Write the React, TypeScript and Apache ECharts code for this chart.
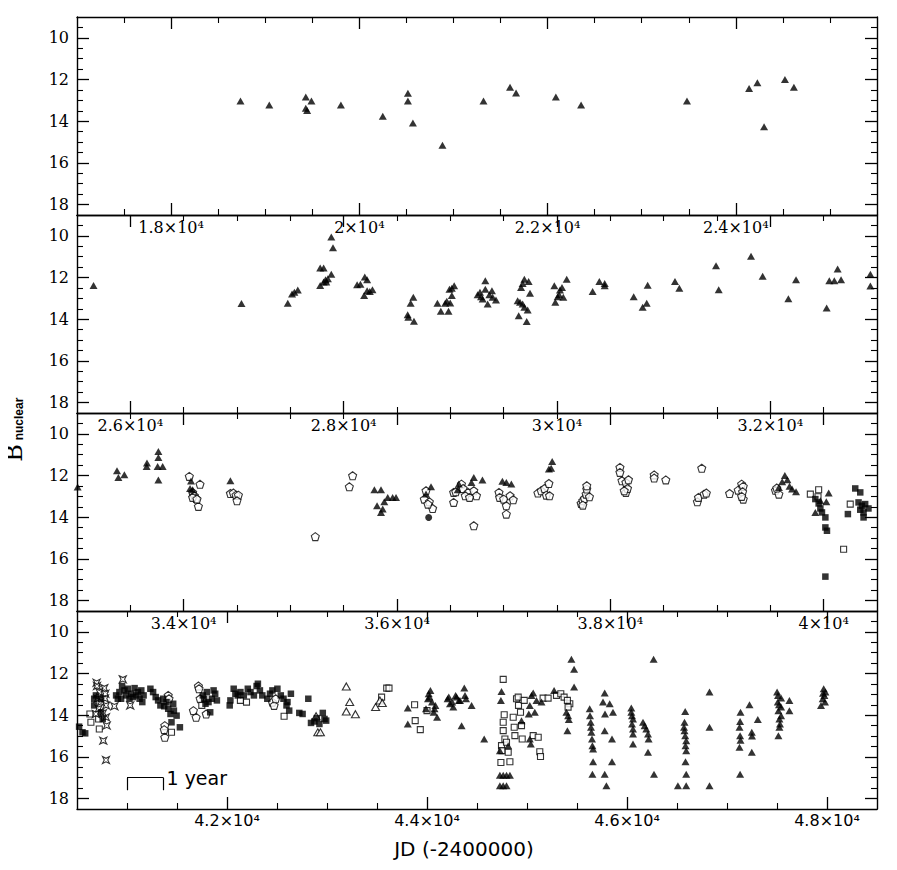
import React, { useEffect, useRef } from "react";
import * as echarts from "echarts";

// ---------- axis ranges and tick values ----------
const panelMinX = [17000, 25500, 33000, 40500];
const panelMaxX = [25500, 33000, 40500, 48500];
const panelMajorTicks = [
  [18000, 20000, 22000, 24000],
  [26000, 28000, 30000, 32000],
  [34000, 36000, 38000, 40000],
  [42000, 44000, 46000, 48000],
];
const minorStep = 500;
const magTicks = [10, 12, 14, 16, 18];
const magMin = 9;
const magMax = 18.5;
const magMinorStep = 0.5;

// ---------- data: [JD-2400000, B_nuclear] ----------
const filledTri = [
  // panel 1
  [18737, 13.03], [19043, 13.22], [19431, 12.84], [19431, 13.38], [19445, 13.49], [19491, 13.03],
  [19804, 13.22], [20249, 13.76], [20516, 12.66], [20516, 13.03], [20569, 14.09], [20883, 15.15],
  [21319, 13.03], [21601, 12.37], [21665, 12.65], [22088, 12.84], [22356, 13.22], [23481, 13.03],
  [24141, 12.43], [24229, 12.16], [24300, 14.27], [24522, 12.0], [24617, 12.37],
  // panel 2
  [25655, 12.38], [27042, 13.25], [27476, 13.24], [27516, 12.79], [27538, 12.71], [27570, 12.6],
  [27780, 11.54], [27812, 11.54], [27884, 10.06], [27900, 10.57], [27884, 11.84], [27780, 12.38],
  [27812, 12.22], [27830, 12.11], [27852, 12.06], [27837, 12.22], [28126, 12.35], [28157, 12.32],
  [28198, 11.98], [28220, 12.11], [28192, 12.86], [28220, 12.63], [28245, 12.67], [28270, 12.59],
  [28600, 13.78], [28606, 13.9], [28628, 13.24], [28653, 12.95], [28659, 14.1], [28879, 13.24],
  [28911, 13.62], [28952, 13.24], [28967, 13.14], [28983, 13.62], [28992, 12.56], [29014, 12.86],
  [29014, 12.51], [29036, 12.4], [28999, 13.22],
  [29256, 12.83], [29288, 12.92], [29328, 12.16], [29328, 12.56], [29303, 13.03], [29350, 13.27],
  [29366, 12.83], [29390, 12.63], [29397, 12.95], [29428, 13.08], [29278, 12.71],
  [29641, 13.83], [29653, 13.19], [29663, 12.48], [29678, 12.29], [29694, 12.08], [29734, 12.19],
  [29747, 12.76], [29694, 13.43], [29725, 13.56], [29716, 14.11], [29678, 13.27], [29631, 13.11],
  [29975, 12.4], [29984, 13.19], [30006, 12.92], [30028, 12.6], [30047, 12.48], [30059, 12.95],
  [30091, 12.08], [30020, 12.83],
  [30334, 12.67], [30397, 12.19], [30447, 12.29], [30447, 12.4],
  [30719, 12.92], [30803, 13.43], [30841, 13.24], [30850, 12.37],
  [31106, 12.19], [31147, 12.52], [31491, 11.44], [31516, 12.59], [31819, 10.98], [31928, 11.94],
  [32169, 13.02], [32241, 12.11], [32528, 13.46], [32553, 12.16], [32600, 12.16], [32631, 11.59],
  [32663, 12.11], [32938, 11.84], [32938, 12.41],
  // panel 3
  [33006, 12.55], [33375, 11.77], [33388, 12.09], [33444, 11.96], [33656, 11.4], [33653, 11.57],
  [33763, 10.85], [33763, 11.14], [33763, 12.21], [33756, 11.57], [33803, 11.57],
  [34069, 12.26], [34060, 12.62], [34084, 12.68], [34438, 12.25],
  [35788, 12.68], [35850, 12.68], [35813, 13.45], [35866, 13.61], [35850, 13.77], [35881, 13.26],
  [35913, 13.05], [35959, 13.05], [35991, 13.05], [36319, 12.54], [36272, 12.89],
  [36569, 12.68], [36580, 12.41], [36720, 12.09], [36801, 12.21], [36698, 12.33],
  [36988, 12.28], [37025, 12.33], [37072, 12.41], [37424, 11.69], [37455, 11.33], [37445, 11.65],
  [39611, 12.3], [39636, 12.0], [39660, 12.2], [39680, 12.52], [39704, 12.65], [39741, 12.78],
  [39580, 12.57], [40047, 12.84], [39922, 13.77], [39969, 13.21], [40025, 13.26],
  // panel 4
  [43808, 13.65], [43808, 14.42],
  [43990, 13.69], [44010, 13.21], [44017, 12.97], [44034, 12.81], [44050, 13.37], [44067, 13.86],
  [44084, 13.53], [44101, 14.1], [44025, 13.13], [44075, 13.69],
  [44206, 13.21], [44218, 13.13], [44230, 13.45], [44252, 13.37], [44263, 13.61], [44286, 13.05],
  [44296, 13.13], [44319, 13.29], [44330, 13.29], [44346, 14.5], [44373, 12.7], [44380, 13.05],
  [44390, 13.21], [44446, 13.53], [44572, 15.14],
  [44745, 12.86], [44739, 13.29], [44729, 16.88], [44762, 16.88], [44795, 16.88], [44829, 16.88],
  [44729, 17.39], [44762, 17.39], [44795, 17.39], [44729, 15.7], [44812, 15.46], [44945, 14.26],
  [45018, 13.94], [45028, 13.53], [45045, 13.05], [45062, 12.94], [45028, 15.14], [45038, 15.38],
  [45078, 13.86], [45095, 13.29], [45145, 13.37], [45271, 12.81], [45394, 13.86], [45411, 14.02],
  [45418, 14.21], [45404, 14.74], [45444, 11.32], [45471, 11.8], [45471, 12.65],
  [45627, 13.69], [45630, 14.02], [45637, 14.34], [45640, 14.58], [45644, 14.82], [45650, 15.14],
  [45654, 15.46], [45661, 15.62], [45661, 16.23], [45654, 16.83],
  [45777, 12.94], [45760, 13.37], [45780, 13.94], [45777, 14.74], [45827, 13.45], [45860, 13.86],
  [45850, 15.14], [45850, 16.23], [45777, 16.83], [45794, 17.39],
  [46043, 13.66], [46043, 13.86], [46050, 14.02], [46060, 14.18], [46050, 14.42], [46060, 14.66],
  [46060, 14.9], [46060, 15.38],
  [46160, 14.34], [46176, 14.5], [46193, 14.66], [46210, 14.9], [46216, 15.14], [46210, 15.78],
  [46266, 11.32], [46270, 16.83],
  [46582, 13.82], [46575, 14.34], [46570, 14.58], [46575, 14.74], [46582, 14.98], [46592, 15.22],
  [46585, 15.46], [46592, 15.7], [46585, 16.23], [46592, 16.83], [46592, 17.39], [46509, 17.39],
  [46825, 12.89], [46825, 14.58], [46825, 17.39],
  [47135, 13.86], [47125, 14.58], [47131, 14.98], [47125, 15.54], [47131, 16.83], [47131, 14.3],
  [47135, 15.2], [47225, 13.5], [47248, 14.82], [47248, 15.78], [47308, 14.21], [47250, 15.0],
  [47501, 12.89], [47508, 13.37], [47514, 13.78], [47524, 14.18], [47524, 14.58], [47514, 14.98],
  [47541, 13.18], [47541, 13.61], [47541, 14.02], [47624, 13.29], [47624, 13.78], [47530, 14.42],
  [47510, 13.05], [47520, 13.5],
  [47967, 12.73], [47974, 13.05], [47957, 13.21], [47940, 13.53], [47980, 13.37], [47984, 12.89],
  [47960, 12.95],
];

const openPent = [
  [34053, 12.04], [34153, 12.42], [34084, 12.81], [34100, 12.97], [34116, 13.1], [34138, 13.48],
  [34084, 13.05], [34125, 13.13],
  [34438, 12.86], [34466, 12.84], [34491, 12.94], [34513, 12.94], [34500, 13.21],
  [35234, 14.93], [35553, 12.54], [35584, 12.01],
  [36256, 13.13], [36272, 12.73], [36303, 13.26], [36334, 13.58], [36290, 13.37],
  [36531, 13.29], [36531, 12.81], [36551, 12.78], [36604, 12.41], [36620, 12.62], [36667, 12.81],
  [36720, 12.73], [36720, 14.41], [36640, 12.97], [36745, 12.97], [36680, 13.05],
  [36956, 12.81], [36962, 13.05], [37000, 13.13], [37025, 13.45], [37025, 13.85], [37060, 12.97],
  [37090, 13.16],
  [37321, 12.84], [37352, 12.73], [37383, 12.62], [37424, 12.38], [37400, 12.94], [37430, 12.97],
  [37726, 13.34], [37742, 13.21], [37757, 13.1], [37773, 12.89], [37779, 12.65], [37779, 12.49],
  [37804, 13.02], [37742, 13.42],
  [38090, 11.61], [38090, 11.85], [38109, 12.25], [38146, 12.33], [38146, 12.81], [38161, 12.62],
  [38170, 12.2], [38130, 12.73],
  [38411, 11.97], [38411, 12.12], [38520, 12.21],
  [38857, 11.65], [38816, 13.26], [38826, 13.05], [38879, 12.89], [38900, 12.84],
  [39118, 12.86], [39199, 12.7], [39231, 12.41], [39246, 12.52], [39240, 12.78], [39246, 13.13],
  [39231, 13.0],
  [39548, 12.71], [39580, 12.89], [39560, 12.6],
  // panel 4
  [41412, 13.05], [41420, 13.21], [41378, 14.5], [41372, 14.69], [41378, 15.06],
  [41664, 13.78], [41691, 14.1], [41714, 12.6], [41720, 12.73], [41792, 13.94], [41731, 13.21],
  [42454, 13.37], [42471, 13.53], [42487, 13.21],
];

const filledCircle = [[36297, 14.01]];

const openSquare = [
  [39875, 12.89], [39953, 12.68], [39947, 13.02], [40187, 15.54], [40249, 13.37],
  [40629, 13.94], [40639, 14.34], [40723, 14.66], [40716, 14.18], [41445, 14.82], [41748, 13.53],
  [42134, 13.29], [42195, 13.37], [42571, 14.05],
  [43546, 13.13], [43597, 12.7], [43620, 12.7], [43876, 13.5], [43882, 14.26], [43933, 14.69],
  [44000, 13.78],
  [44762, 12.28], [44772, 13.98], [44762, 14.34], [44762, 14.74], [44745, 15.46], [44750, 15.7],
  [44739, 16.27], [44779, 15.14], [44795, 15.3], [44812, 15.78], [44829, 16.23], [44862, 14.1],
  [44872, 14.58], [44879, 14.98], [44895, 13.21], [44912, 13.13], [44915, 13.53], [44935, 13.86],
  [44945, 14.5], [44952, 15.14], [44972, 13.29], [45062, 14.98], [45112, 15.06], [45128, 15.75],
  [45135, 15.98], [45161, 13.18], [45211, 13.18], [45295, 13.05], [45338, 12.97], [45371, 13.13],
  [45428, 13.45], [45404, 13.29], [45411, 13.61],
];

const filledSquare = [
  [39922, 13.13], [39953, 13.34], [39969, 13.58], [39984, 13.77], [40016, 14.01], [40016, 14.49],
  [40031, 14.65], [40016, 16.85], [40227, 13.85], [40296, 12.62], [40343, 12.81], [40327, 13.29],
  [40358, 13.45], [40389, 13.37], [40420, 13.58], [40374, 13.77], [40374, 14.01], [40343, 13.64],
  [40521, 14.55], [40555, 14.82], [40582, 14.87],
  [40672, 13.21], [40672, 13.53], [40689, 13.05], [40740, 13.21], [40740, 13.86], [40757, 14.18],
  [40891, 13.05], [40908, 13.21], [40924, 12.89], [40951, 12.6], [40975, 12.81], [40992, 13.05],
  [41008, 12.73], [41042, 12.97], [41059, 13.13], [41076, 12.7], [41093, 13.05], [41109, 12.89],
  [41126, 13.21], [41153, 13.37], [41166, 13.05], [41143, 12.81], [41025, 13.21], [40941, 13.21],
  [41234, 12.73], [41261, 12.89], [41287, 13.13], [41311, 13.29], [41334, 13.53], [41361, 13.21],
  [41395, 13.37], [41412, 13.69], [41435, 13.94], [41462, 13.45], [41469, 13.78], [41496, 14.02],
  [41529, 14.58], [41445, 14.34], [41372, 13.57],
  [41758, 13.05], [41771, 13.21], [41798, 12.89], [41815, 13.37], [41832, 13.86], [41849, 13.21],
  [41866, 12.81], [41882, 12.97], [41899, 13.29], [41785, 13.45],
  [42027, 13.53], [42034, 13.29], [42067, 12.73], [42084, 12.97], [42108, 13.05], [42134, 12.89],
  [42168, 13.05], [42208, 12.73], [42235, 12.89], [42269, 13.05], [42296, 12.6], [42309, 12.49],
  [42329, 12.81], [42353, 13.05],
  [42403, 13.21], [42430, 12.97], [42454, 12.81], [42504, 12.73], [42538, 13.05], [42565, 13.21],
  [42605, 13.37], [42622, 13.78], [42639, 12.97], [42595, 13.53],
  [42723, 13.89], [42756, 13.94], [42813, 13.21], [42840, 14.37], [42874, 14.3], [42898, 14.14],
  [42924, 14.42], [42958, 13.89], [42975, 14.18], [42992, 14.26],
];

const openTri = [
  [42891, 14.05], [42908, 14.82], [42934, 14.82],
  [43193, 12.62], [43227, 13.37], [43193, 13.82], [43284, 13.95],
  [43486, 13.61], [43529, 13.29], [43553, 13.41],
];

const openStar = [
  [40696, 12.44], [40700, 12.6], [40773, 12.7], [40783, 12.97], [40706, 13.21], [40716, 13.69],
  [40790, 13.53], [40790, 14.1], [40689, 13.94], [40797, 14.5], [40763, 15.22], [40790, 16.15],
  [40723, 12.89], [40740, 13.37], [40780, 13.2], [40760, 13.9],
  [40874, 13.57], [40958, 12.28], [41032, 13.53],
];

// one-year scale bar in the last panel
const yearBar = [[41000, 17.6], [41000, 17], [41365, 17], [41365, 17.6]];
const yearBarLabel = "1 year";

const xTitle = "JD (-2400000)";
const yTitleMain = "B";
const yTitleSub = "nuclear";

// ---------- drawing ----------
const PENT = "path://M0,-10 L9.51,-3.09 L5.88,8.09 L-5.88,8.09 L-9.51,-3.09 Z";
const STAR = "path://M-10,-10 L0,-5 L10,-10 L5,0 L10,10 L0,5 L-10,10 L-5,0 Z";

const GRID_LEFT = 77;
const GRID_WIDTH = 800;
const GRID_TOP = 17;
const GRID_H = 198;
const black = "#000";
const MAJOR_LEN = 12;
const MINOR_LEN = 6;

function fmtJD(v: number) {
  const m = Math.round((v / 10000) * 10) / 10;
  return `${m}×10⁴`;
}

// inward tick segments on all four sides of a panel, as mark lines in data space
function tickLines(p: number) {
  const minX = panelMinX[p];
  const maxX = panelMaxX[p];
  const magPerPx = (magMax - magMin) / GRID_H;
  const jdPerPx = (maxX - minX) / GRID_WIDTH;
  const items: any[] = [];
  const seg = (a: number[], b: number[], len: number) => {
    items.push([{ coord: a, lineStyle: { width: len > 8 ? 1.3 : 1.1 } }, { coord: b }]);
  };
  for (let v = minX + minorStep; v < maxX; v += minorStep) {
    const len = panelMajorTicks[p].includes(v) ? MAJOR_LEN : MINOR_LEN;
    seg([v, magMax], [v, magMax - len * magPerPx], len);
    seg([v, magMin], [v, magMin + len * magPerPx], len);
  }
  for (let m = magMin + magMinorStep; m < magMax; m += magMinorStep) {
    const len = magTicks.includes(m) ? MAJOR_LEN : MINOR_LEN;
    seg([minX, m], [minX + len * jdPerPx, m], len);
    seg([maxX, m], [maxX - len * jdPerPx, m], len);
  }
  return items;
}

function buildOption() {
  const grids: any[] = [];
  const xAxes: any[] = [];
  const yAxes: any[] = [];
  const series: any[] = [];
  const lineOn = () => ({ show: true, onZero: false, lineStyle: { color: black, width: 1.4 } });

  for (let p = 0; p < 4; p++) {
    grids.push({ left: GRID_LEFT, width: GRID_WIDTH, top: GRID_TOP + p * GRID_H, height: GRID_H });
    const last = p === 3;
    const xb = { type: "value", gridIndex: p, min: panelMinX[p], max: panelMaxX[p], splitLine: { show: false }, axisTick: { show: false } };
    const yb = { type: "value", gridIndex: p, min: magMin, max: magMax, inverse: true, splitLine: { show: false }, axisTick: { show: false } };

    xAxes.push({
      ...xb,
      position: "bottom",
      axisLine: lineOn(),
      axisLabel: {
        show: true,
        customValues: panelMajorTicks[p],
        formatter: (v: number) => fmtJD(v),
        color: black,
        fontFamily: last ? "DejaVu Sans" : "DejaVu Serif",
        fontSize: 16,
        margin: last ? 3 : 4,
      },
    });
    xAxes.push({ ...xb, position: "top", axisLine: lineOn(), axisLabel: { show: false } });
    yAxes.push({
      ...yb,
      position: "left",
      axisLine: lineOn(),
      axisLabel: { show: true, customValues: magTicks, color: black, fontFamily: "DejaVu Serif", fontSize: 16, margin: 8 },
    });
    yAxes.push({ ...yb, position: "right", axisLine: lineOn(), axisLabel: { show: false } });

    // tick marks
    series.push({
      type: "scatter",
      xAxisIndex: p * 2,
      yAxisIndex: p * 2,
      data: [[panelMinX[p], magMin]],
      symbolSize: 0,
      silent: true,
      clip: false,
      markLine: {
        silent: true,
        symbol: "none",
        animation: false,
        precision: 4,
        lineStyle: { color: black, width: 1.2, type: "solid" },
        label: { show: false },
        emphasis: { disabled: true },
        data: tickLines(p),
      },
    });

    const markerDefs: any[] = [
      { data: openPent, symbol: PENT, size: 8, filled: false },
      { data: openSquare, symbol: "rect", size: 6, filled: false },
      { data: openTri, symbol: "triangle", size: [8, 7], filled: false },
      { data: openStar, symbol: STAR, size: 7, filled: false },
      { data: filledSquare, symbol: "rect", size: 6.5, filled: true },
      { data: filledCircle, symbol: "circle", size: 7, filled: true },
      { data: filledTri, symbol: "triangle", size: [8, 7], filled: true },
    ];
    for (const def of markerDefs) {
      const pts = def.data.filter((d: number[]) => d[0] >= panelMinX[p] && d[0] < panelMaxX[p]);
      if (!pts.length) continue;
      series.push({
        type: "scatter",
        xAxisIndex: p * 2,
        yAxisIndex: p * 2,
        data: pts,
        symbol: def.symbol,
        symbolSize: def.size,
        itemStyle: def.filled
          ? { color: black, borderWidth: 0 }
          : { color: "#fff", borderColor: black, borderWidth: 1.1 },
      });
    }
  }

  // one-year scale bar, drawn as mark lines on the last panel
  series.push({
    type: "scatter",
    xAxisIndex: 6,
    yAxisIndex: 6,
    data: yearBar,
    symbolSize: 0,
    silent: true,
    markLine: {
      silent: true,
      symbol: "none",
      animation: false,
      lineStyle: { color: black, width: 1.2, type: "solid" },
      label: { show: false },
      emphasis: { disabled: true },
      data: [
        [{ coord: yearBar[0] }, { coord: yearBar[1] }],
        [
          {
            coord: yearBar[1],
            label: { show: true, position: "end", distance: 3, formatter: yearBarLabel, color: black, fontFamily: "DejaVu Sans", fontSize: 19 },
          },
          { coord: yearBar[2] },
        ],
        [{ coord: yearBar[2] }, { coord: yearBar[3] }],
      ],
    },
  });

  return {
    animation: false,
    grid: grids,
    xAxis: xAxes,
    yAxis: yAxes,
    series,
    graphic: [
      {
        type: "text",
        x: 14,
        y: 453,
        rotation: Math.PI / 2,
        style: { text: yTitleMain, fontFamily: "DejaVu Serif", fontSize: 24, fill: black, align: "center", verticalAlign: "middle" },
      },
      {
        type: "text",
        x: 19,
        y: 419,
        rotation: Math.PI / 2,
        style: { text: yTitleSub, fontFamily: "Liberation Sans", fontWeight: "bold", fontSize: 12, fill: black, align: "center", verticalAlign: "middle" },
      },
      {
        type: "text",
        x: 464,
        y: 849,
        style: { text: xTitle, fontFamily: "DejaVu Sans", fontSize: 20, fill: black, align: "center", verticalAlign: "middle" },
      },
    ],
  };
}

export default function App() {
  const ref = useRef<HTMLDivElement>(null);
  useEffect(() => {
    if (!ref.current) return;
    const chart = echarts.init(ref.current, undefined, { renderer: "svg" });
    chart.setOption(buildOption() as any);
    return () => chart.dispose();
  }, []);
  return <div ref={ref} style={{ width: 897, height: 870, margin: -8 }} />;
}
